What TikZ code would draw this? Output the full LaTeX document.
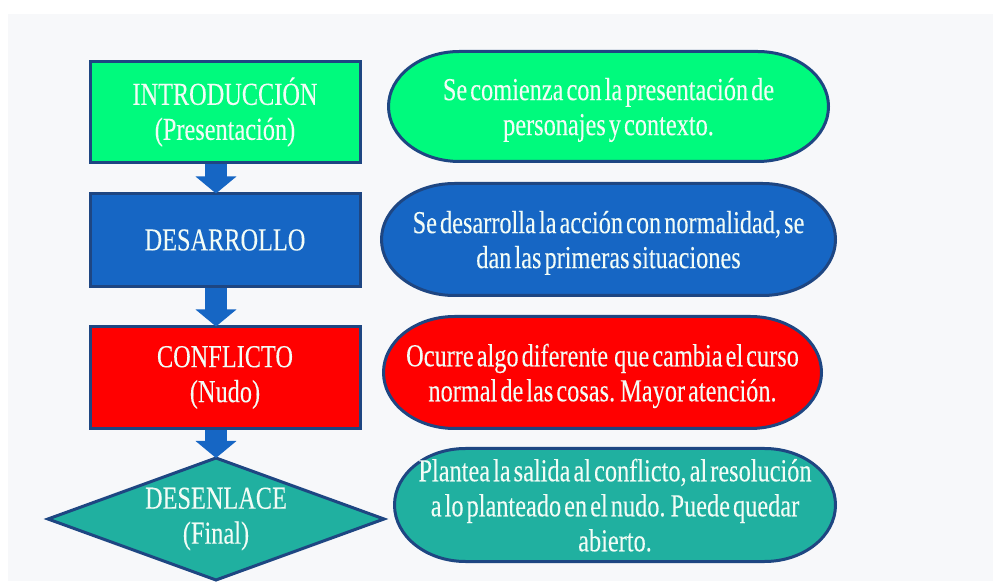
\documentclass[tikz,border=0pt]{standalone}
\usepackage{fontspec}
\setmainfont{Liberation Serif}[FakeStretch=0.76,WordSpace=0.5,FakeBold=0.12]
\usetikzlibrary{shapes.geometric,arrows.meta,calc}
\pgfdeclarelayer{bg}
\pgfsetlayers{bg,main}
\definecolor{cgreen}{RGB}{0,250,125}
\definecolor{cblue}{RGB}{22,102,196}
\definecolor{cred}{RGB}{255,0,0}
\definecolor{cteal}{RGB}{32,176,160}
\definecolor{cborder}{RGB}{30,70,130}
\definecolor{ctext}{RGB}{242,252,246}
\definecolor{cbg}{RGB}{247,248,250}
\newcommand\termpath[4]{%
  \filldraw[fill=#4, draw=cborder, line width=3pt]
    ($(#1.north west)+(#2,0)$) -- ($(#1.north east)+(-#2,0)$)
    arc[start angle=90, end angle=-90, x radius=#2, y radius=#3]
    -- ($(#1.south west)+(#2,0)$)
    arc[start angle=270, end angle=90, x radius=#2, y radius=#3] -- cycle;}
\begin{document}
\begin{tikzpicture}[x=1pt,y=1pt,
  txt/.style={text=ctext, font=\fontsize{32}{35}\selectfont, align=center, inner sep=0pt, outer sep=0pt},
  box/.style={txt, rectangle, draw=cborder, line width=3pt, minimum width=270pt},
  termnode/.style={txt, rectangle, text depth=0pt},
  blockarrow/.style={draw=cblue, line width=22pt, -{Triangle[width=40pt,length=17pt]}, shorten <=1.5pt}
]
\useasboundingbox (0,0) rectangle (993,581);
\begin{pgfonlayer}{bg}
\fill[white] (0,0) rectangle (993,581);
\fill[cbg] (8,0) rectangle (993,567);
\end{pgfonlayer}

% left column
\node[box, fill=cgreen, minimum height=101pt] (b1) at (225,469) {INTRODUCCIÓN\\(Presentación)};
\node[box, fill=cblue, minimum height=93pt] (b2) at (225,341) {DESARROLLO};
\node[box, fill=cred, minimum height=102pt] (b3) at (225,203.5) {CONFLICTO\\(Nudo)};
\node[txt, diamond, draw=cborder, fill=cteal, line width=3pt, aspect=2.75,
      minimum width=336pt, minimum height=122pt] (dm) at (216,62) {DESENLACE\\(Final)};

\draw[blockarrow] (b1.south -| dm.center) -- (b2.north -| dm.center);
\draw[blockarrow] (b2.south -| dm.center) -- (b3.north -| dm.center);
\draw[blockarrow] (b3.south -| dm.center) -- (dm.north);

% right column
\node[termnode, minimum width=440pt, minimum height=110pt] (e1) at (608.5,474.5)
  {Se comienza con la presentación de\\personajes y contexto.};
\node[termnode, minimum width=454pt, minimum height=112pt] (e2) at (608.5,341.5)
  {Se desarrolla la acción con normalidad, se\\dan las primeras situaciones};
\node[termnode, minimum width=438pt, minimum height=112pt] (e3) at (602.5,208.5)
  {Ocurre algo diferente~ que cambia el curso\\normal de las cosas. Mayor atención.};
\node[termnode, minimum width=441pt, minimum height=113pt] (e4) at (615,76)
  {Plantea la salida al conflicto, al resolución\\a lo planteado en el nudo. Puede quedar\\abierto.};

\begin{pgfonlayer}{bg}
\termpath{e1}{71}{55}{cgreen}
\termpath{e2}{73}{56}{cblue}
\termpath{e3}{71}{56}{cred}
\termpath{e4}{71}{56.5}{cteal}
\end{pgfonlayer}
\end{tikzpicture}
\end{document}
